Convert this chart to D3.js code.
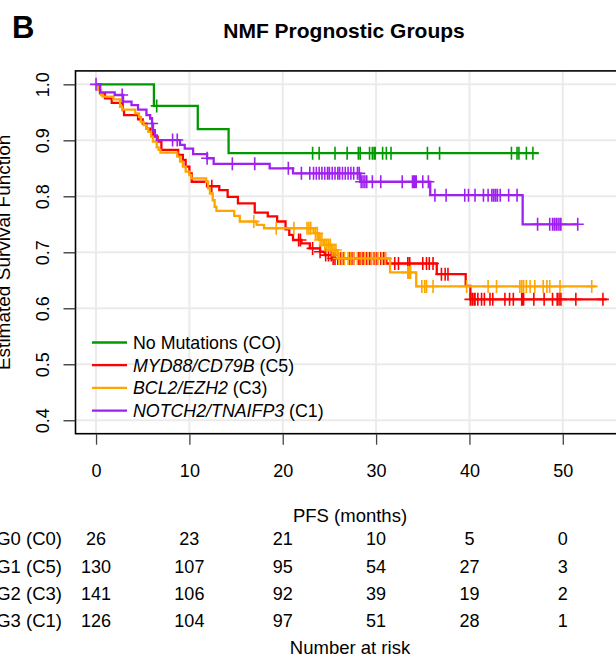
<!DOCTYPE html>
<html><head><meta charset="utf-8">
<script src="https://cdn.jsdelivr.net/npm/d3@7"></script>
<style>
html,body{margin:0;padding:0;background:#fff;}
svg text{font-family:"Liberation Sans",Arial,Helvetica,sans-serif;fill:#000;}
</style></head>
<body>
<svg id="chart" width="616" height="659"></svg>
<script>
// ---------------- data ----------------
const groupNames = ["G0 (C0)", "G1 (C5)", "G2 (C3)", "G3 (C1)"];
const groupColors = ["#009a00", "#ff0000", "#ffa500", "#a020f0"];

const greenTimes = [0, 6.2, 10.9, 14.2];
const greenSurv  = [1, 0.9615, 0.92, 0.877];
const greenEnd = 47.4;
const greenCensor = [6.5, 23.2, 23.9, 25.6, 26.9, 28.1, 28.3, 29.3, 29.6, 29.8, 29.9, 30.7, 31.1, 31.6, 35.5, 36.8, 44.5, 45.1, 45.3, 46.1, 46.8];

const redTimes = [0, 0.43, 0.96, 1.68, 2.86, 3.0, 4.5, 5.0, 5.4, 5.8, 6.1, 6.6, 7.0, 8.8, 9.3, 9.6, 10.0, 10.25, 11.9, 13.2, 14.1, 15.2, 17.0, 18.4, 19.4, 20.3, 20.7, 21.1, 22.0, 22.9, 24.0, 24.5, 25.3, 31.1, 36.5, 39.6, 40.1];
const redSurv  = [1, 0.984, 0.975, 0.967, 0.954, 0.945, 0.9375, 0.930, 0.921, 0.915, 0.9065, 0.8975, 0.883, 0.874, 0.865, 0.853, 0.841, 0.826, 0.818, 0.811, 0.799, 0.7875, 0.771, 0.764, 0.755, 0.741, 0.731, 0.722, 0.716, 0.707, 0.701, 0.695, 0.689, 0.680, 0.661, 0.640, 0.616];
const redEnd = 54.7;
const redCensor = [12.4, 21.7, 21.9, 23.2, 24.0, 24.6, 24.9, 25.2, 25.4, 25.6, 25.9, 26.2, 26.5, 27.2, 27.4, 27.6, 28.1, 28.3, 28.6, 29.0, 29.3, 29.5, 29.8, 30.1, 30.5, 30.8, 31.0, 32.0, 32.4, 33.4, 33.6, 35.0, 35.4, 35.7, 36.1, 37.0, 37.4, 37.7, 40.1, 40.3, 40.5, 40.6, 40.9, 41.3, 41.6, 42.2, 42.5, 43.8, 44.3, 44.7, 45.6, 45.7, 45.8, 46.9, 48.0, 48.9, 49.4, 49.6, 49.8, 51.4, 54.3];

const orangeTimes = [0, 0.2, 0.54, 0.71, 1.86, 2.57, 2.8, 4.2, 4.6, 4.8, 5.1, 5.4, 5.6, 5.9, 6.1, 6.5, 6.7, 6.9, 8.7, 9.0, 9.3, 9.6, 10.0, 10.2, 11.8, 12.0, 12.2, 12.5, 12.7, 12.9, 14.8, 15.4, 17.2, 18.0, 23.3, 23.9, 24.4, 25.2, 25.9, 31.5, 34.3];
const orangeSurv  = [1, 0.990, 0.981, 0.978, 0.973, 0.960, 0.955, 0.948, 0.942, 0.933, 0.927, 0.921, 0.915, 0.9065, 0.8975, 0.8875, 0.883, 0.878, 0.871, 0.862, 0.853, 0.844, 0.838, 0.832, 0.826, 0.814, 0.805, 0.793, 0.781, 0.774, 0.765, 0.755, 0.749, 0.743, 0.734, 0.722, 0.713, 0.704, 0.689, 0.664, 0.639];
const orangeEnd = 53.6;
const orangeCensor = [16.9, 19.3, 21.2, 22.6, 22.8, 23.0, 23.5, 23.7, 24.0, 24.2, 24.5, 24.7, 24.9, 25.1, 25.3, 25.5, 25.7, 26.0, 26.3, 26.6, 27.0, 27.3, 27.6, 28.0, 28.4, 28.8, 29.1, 29.5, 29.9, 30.2, 30.6, 31.0, 33.4, 33.5, 33.6, 33.7, 34.9, 35.2, 35.4, 36.1, 39.7, 42.0, 42.9, 45.4, 45.6, 45.8, 46.1, 46.5, 47.0, 47.9, 48.3, 48.6, 49.7, 53.1];

const purpleTimes = [0, 0.43, 2.0, 2.9, 3.8, 4.5, 5.4, 5.8, 6.0, 6.1, 6.3, 6.5, 9.0, 9.5, 10.4, 11.9, 12.6, 18.6, 21.1, 28.3, 35.8, 45.7];
const purpleSurv  = [1, 0.9857, 0.981, 0.969, 0.963, 0.955, 0.945, 0.939, 0.930, 0.918, 0.909, 0.9005, 0.892, 0.885, 0.8755, 0.868, 0.858, 0.850, 0.841, 0.826, 0.802, 0.750];
const purpleEnd = 51.6;
const purpleCensor = [0, 2.8, 6.0, 8.2, 8.7, 11.9, 14.6, 17.0, 20.6, 22.0, 22.9, 23.3, 23.6, 23.9, 24.2, 24.5, 24.8, 25.0, 25.3, 25.6, 25.9, 26.1, 26.4, 26.7, 27.0, 27.3, 27.6, 28.0, 28.2, 28.4, 28.6, 28.8, 29.0, 29.6, 30.5, 32.8, 33.9, 34.0, 34.1, 34.2, 34.3, 35.0, 35.6, 36.3, 37.5, 39.5, 39.9, 40.6, 41.5, 42.0, 42.4, 42.6, 42.8, 43.0, 43.3, 44.2, 45.1, 47.3, 48.6, 48.9, 49.1, 49.3, 49.5, 49.7, 49.8, 51.6];

const legendItalic = ["", "MYD88/CD79B", "BCL2/EZH2", "NOTCH2/TNAIFP3"];
const legendPlain  = ["No Mutations (CO)", " (C5)", " (C3)", " (C1)"];

const xTicks = [0, 10, 20, 30, 40, 50];
const yTicks = [0.4, 0.5, 0.6, 0.7, 0.8, 0.9, 1.0];
const riskTimes = [0, 10, 20, 30, 40, 50];
const riskG0 = [26, 23, 21, 10, 5, 0];
const riskG1 = [130, 107, 95, 54, 27, 3];
const riskG2 = [141, 106, 92, 39, 19, 2];
const riskG3 = [126, 104, 97, 51, 28, 1];

// ---------------- drawing ----------------
const svg = d3.select("#chart");
const x = d3.scaleLinear().domain([-2.2, 57.2]).range([75.5, 630]);
const y = d3.scaleLinear().domain([0.376, 1.024]).range([433.7, 70.9]);
const FS = 17.5;

const groups = [
  {times: greenTimes, surv: greenSurv, end: greenEnd, censor: greenCensor},
  {times: redTimes, surv: redSurv, end: redEnd, censor: redCensor},
  {times: orangeTimes, surv: orangeSurv, end: orangeEnd, censor: orangeCensor},
  {times: purpleTimes, surv: purpleSurv, end: purpleEnd, censor: purpleCensor}
];
const riskCounts = [riskG0, riskG1, riskG2, riskG3];

svg.append("defs").append("clipPath").attr("id", "clip")
  .append("rect").attr("x", x.range()[0]).attr("y", y.range()[1])
  .attr("width", x.range()[1] - x.range()[0]).attr("height", y.range()[0] - y.range()[1]);

// grid
const grid = svg.append("g").attr("clip-path", "url(#clip)");
grid.selectAll("line.vg").data(xTicks).join("line")
  .attr("x1", d => x(d)).attr("x2", d => x(d)).attr("y1", y.range()[1]).attr("y2", y.range()[0])
  .attr("stroke", "#ebebeb").attr("stroke-width", 2);
grid.selectAll("line.hg").data(yTicks).join("line")
  .attr("y1", d => y(d)).attr("y2", d => y(d)).attr("x1", x.range()[0]).attr("x2", x.range()[1])
  .attr("stroke", "#ebebeb").attr("stroke-width", 2);

// curves
const plot = svg.append("g").attr("clip-path", "url(#clip)");
const line = d3.line().x(d => x(d[0])).y(d => y(d[1])).curve(d3.curveStepAfter);
function survAt(g, t) {
  let s = g.surv[0];
  for (let i = 0; i < g.times.length; i++) if (g.times[i] <= t) s = g.surv[i];
  return s;
}
groups.forEach((g, gi) => {
  const pts = g.times.map((t, i) => [t, g.surv[i]]);
  pts.push([g.end, g.surv[g.surv.length - 1]]);
  plot.append("path").attr("d", line(pts)).attr("fill", "none")
    .attr("stroke", groupColors[gi]).attr("stroke-width", 2.3);
  const cp = g.censor.map(t => {
    const cx = x(t), cy = y(survAt(g, t));
    return `M${cx - 6},${cy}H${cx + 6}M${cx},${cy - 6.5}V${cy + 6.5}`;
  }).join("");
  plot.append("path").attr("d", cp).attr("fill", "none")
    .attr("stroke", groupColors[gi]).attr("stroke-width", 1.6);
});

// box
svg.append("rect").attr("x", x.range()[0]).attr("y", y.range()[1])
  .attr("width", x.range()[1] - x.range()[0]).attr("height", y.range()[0] - y.range()[1])
  .attr("fill", "none").attr("stroke", "#000").attr("stroke-width", 1.6);

// x axis
const xAxis = d3.axisBottom(x).tickValues(xTicks).tickSize(11).tickPadding(20).tickFormat(d3.format("d"));
const gx = svg.append("g").attr("transform", `translate(0,${y.range()[0]})`).call(xAxis);
gx.select(".domain").remove();
gx.selectAll(".tick line").attr("stroke", "#444").attr("stroke-width", 1.3);
gx.selectAll(".tick text").attr("font-size", 18).attr("fill", "#000")
  .attr("font-family", "Liberation Sans, Arial, sans-serif");

// y axis
const yAxis = d3.axisLeft(y).tickValues(yTicks).tickSize(12).tickPadding(0).tickFormat(d3.format(".1f"));
const gy = svg.append("g").attr("transform", `translate(${x.range()[0]},0)`).call(yAxis);
gy.select(".domain").remove();
gy.selectAll(".tick line").attr("stroke", "#333").attr("stroke-width", 1.3);
gy.selectAll(".tick text").remove();
gy.selectAll(".tick").append("text")
  .attr("transform", "translate(-27,0) rotate(-90)")
  .attr("text-anchor", "middle").attr("dy", "0")
  .attr("font-size", 18).attr("fill", "#000")
  .attr("font-family", "Liberation Sans, Arial, sans-serif")
  .text(d => d3.format(".1f")(d));

// axis titles
svg.append("text").attr("transform", `translate(10,${(y.range()[0] + y.range()[1]) / 2}) rotate(-90)`)
  .attr("text-anchor", "middle").attr("font-size", 19).text("Estimated Survival Function");
svg.append("text").attr("x", 350).attr("y", 522).attr("text-anchor", "middle")
  .attr("font-size", 18.5).text("PFS (months)");
svg.append("text").attr("x", 350).attr("y", 654).attr("text-anchor", "middle")
  .attr("font-size", 18.5).text("Number at risk");

// title and panel letter
svg.append("text").attr("x", 344).attr("y", 37.5).attr("text-anchor", "middle")
  .attr("font-size", 21).attr("font-weight", "bold").text("NMF Prognostic Groups");
svg.append("text").attr("x", 12).attr("y", 38)
  .attr("font-size", 31).attr("font-weight", "bold").text("B");

// legend
const lg = svg.append("g");
groupColors.forEach((c, i) => {
  const ly = 342.5 + i * 22.7;
  lg.append("line").attr("x1", 92).attr("x2", 127).attr("y1", ly).attr("y2", ly)
    .attr("stroke", c).attr("stroke-width", 2.3);
  const t = lg.append("text").attr("x", 133).attr("y", ly + 6.3).attr("font-size", 17.8);
  if (legendItalic[i]) t.append("tspan").attr("font-style", "italic").text(legendItalic[i]);
  t.append("tspan").text(legendPlain[i]);
});

// risk table
const rowY = [545.3, 572.5, 599.7, 626.9];
groupNames.forEach((name, i) => {
  svg.append("text").attr("x", 62).attr("y", rowY[i]).attr("text-anchor", "end")
    .attr("font-size", 18.5).text(name);
  riskTimes.forEach((t, j) => {
    svg.append("text").attr("x", x(t)).attr("y", rowY[i]).attr("text-anchor", "middle")
      .attr("font-size", 18).text(riskCounts[i][j]);
  });
});
</script>
</body></html>
